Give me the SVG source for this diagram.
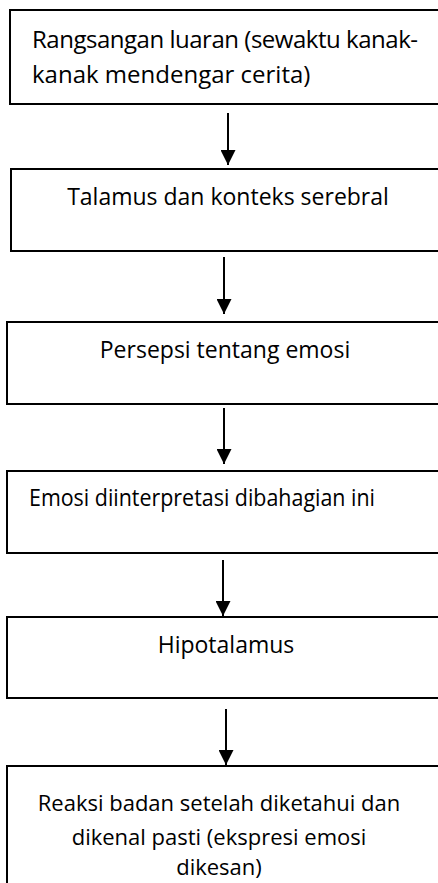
<svg xmlns="http://www.w3.org/2000/svg" width="438" height="883" viewBox="0 0 438 883">
<defs>
<marker id="ah" markerWidth="15" markerHeight="15" viewBox="0 0 15 15" refX="15" refY="7.5" orient="auto" markerUnits="userSpaceOnUse">
<path d="M0,0 L15,7.5 L0,15 Z" fill="#000"/>
</marker>
</defs>
<style>
.box{fill:#fff;stroke:#000;stroke-width:2}
.t{font-family:"Open Sans","Noto Sans","DejaVu Sans",sans-serif;font-size:23px;fill:#000}
.big{font-size:24px}
.sm{font-size:22px}
.c{text-anchor:middle}
.arr{stroke:#000;stroke-width:2;fill:none;marker-end:url(#ah)}
</style>
<rect width="438" height="883" fill="#fff"/>
<g id="connectors">
<line class="arr" x1="228" y1="113" x2="228" y2="165"/>
<line class="arr" x1="224" y1="257" x2="224" y2="314"/>
<line class="arr" x1="224" y1="408" x2="224" y2="464"/>
<line class="arr" x1="223" y1="560" x2="223" y2="616"/>
<line class="arr" x1="226" y1="709" x2="226" y2="765"/>
</g>
<g id="n1">
<rect class="box" x="10" y="10" width="440" height="94"/>
<text class="t big" x="32" y="48" textLength="386" lengthAdjust="spacing">Rangsangan luaran (sewaktu kanak-</text>
<text class="t big" x="32" y="83">kanak mendengar cerita)</text>
</g>
<g id="n2">
<rect class="box" x="11" y="169" width="440" height="82"/>
<text class="t c" x="228" y="205">Talamus dan konteks serebral</text>
</g>
<g id="n3">
<rect class="box" x="7" y="322" width="440" height="82"/>
<text class="t c" x="225" y="358">Persepsi tentang emosi</text>
</g>
<g id="n4">
<rect class="box" x="7" y="471" width="440" height="82"/>
<text class="t" x="29" y="506" textLength="346" lengthAdjust="spacingAndGlyphs">Emosi diinterpretasi dibahagian ini</text>
</g>
<g id="n5">
<rect class="box" x="7" y="617" width="440" height="81"/>
<text class="t c" x="226" y="653">Hipotalamus</text>
</g>
<g id="n6">
<rect class="box" x="7" y="766" width="440" height="130"/>
<text class="t sm c" x="219" y="811">Reaksi badan setelah diketahui dan</text>
<text class="t sm c" x="219" y="845">dikenal pasti (ekspresi emosi</text>
<text class="t sm c" x="219" y="875">dikesan)</text>
</g>
</svg>
